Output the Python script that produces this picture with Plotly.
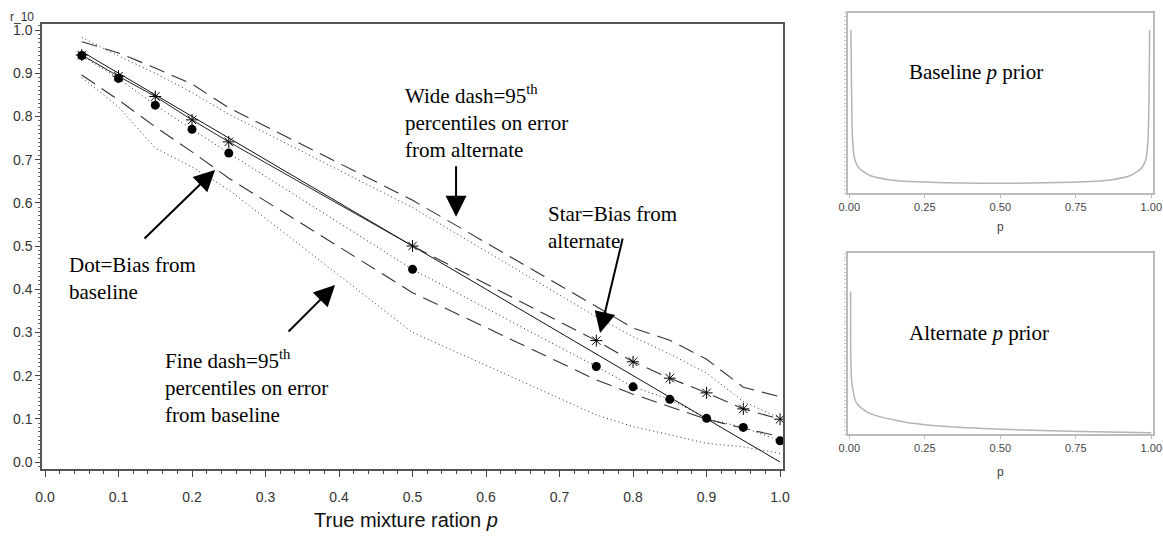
import plotly.graph_objects as go

# ---- main panel: bias and 95th percentile bands of r_10 vs true mixture ratio p
p_true = [0.05, 0.10, 0.15, 0.20, 0.25, 0.50, 0.75, 0.80, 0.85, 0.90, 0.95, 1.00]
r_truth = [0.95, 0.90, 0.85, 0.80, 0.75, 0.50, 0.25, 0.20, 0.15, 0.10, 0.05, 0.00]
bias_alternate = [0.942, 0.893, 0.846, 0.792, 0.741, 0.500, 0.281, 0.232, 0.194, 0.160, 0.123, 0.099]
bias_baseline = [0.941, 0.888, 0.826, 0.770, 0.715, 0.446, 0.221, 0.174, 0.145, 0.101, 0.080, 0.049]
alt_upper = [0.973, 0.947, 0.912, 0.875, 0.820, 0.606, 0.360, 0.310, 0.282, 0.238, 0.173, 0.151]
alt_lower = [0.896, 0.838, 0.776, 0.718, 0.657, 0.392, 0.190, 0.157, 0.128, 0.099, 0.078, 0.059]
base_upper = [0.983, 0.940, 0.900, 0.855, 0.805, 0.589, 0.336, 0.290, 0.250, 0.206, 0.140, 0.101]
base_lower = [0.890, 0.822, 0.727, 0.683, 0.630, 0.300, 0.109, 0.082, 0.063, 0.043, 0.035, 0.020]

x_ticks = [0.0, 0.1, 0.2, 0.3, 0.4, 0.5, 0.6, 0.7, 0.8, 0.9, 1.0]
y_ticks = [0.0, 0.1, 0.2, 0.3, 0.4, 0.5, 0.6, 0.7, 0.8, 0.9, 1.0]

# ---- prior densities (right panels)
prior_p_base = [0.0055, 0.011, 0.019, 0.035, 0.069, 0.135, 0.267, 0.50,
                0.733, 0.865, 0.931, 0.965, 0.981, 0.989, 0.9945]
prior_d_base = [10.4, 3.37, 2.09, 1.55, 1.13, 0.85, 0.70, 0.64,
                0.70, 0.85, 1.13, 1.55, 2.09, 3.37, 10.4]
prior_p_alt = [0.0044, 0.0077, 0.024, 0.057, 0.10, 0.21, 0.32, 0.50, 0.765, 1.00]
prior_d_alt = [9.46, 3.60, 2.06, 1.50, 1.17, 0.73, 0.51, 0.33, 0.18, 0.11]
prior_ticks = [0.0, 0.25, 0.5, 0.75, 1.0]

W, H = 1163, 537
SERIF = "Liberation Serif, Times New Roman, serif"
SANS = "Liberation Sans, Arial, sans-serif"

fig = go.Figure()

# true value line
fig.add_trace(go.Scatter(x=p_true, y=r_truth, mode="lines",
                         line=dict(color="#111", width=1), xaxis="x", yaxis="y"))
# percentile bands
for vals in (alt_upper, alt_lower):
    fig.add_trace(go.Scatter(x=p_true, y=vals, mode="lines",
                             line=dict(color="#333", width=1.1, dash="16px,8px"),
                             xaxis="x", yaxis="y"))
for vals in (base_upper, base_lower):
    fig.add_trace(go.Scatter(x=p_true, y=vals, mode="lines",
                             line=dict(color="#333", width=1, dash="1px,3px"),
                             xaxis="x", yaxis="y"))
# bias from baseline prior (dots joined by a fine dotted line)
fig.add_trace(go.Scatter(x=p_true, y=bias_baseline, mode="lines+markers",
                         line=dict(color="#222", width=1, dash="1px,3px"),
                         marker=dict(symbol="circle", size=9, color="black"),
                         xaxis="x", yaxis="y"))
# bias from alternate prior (stars)
fig.add_trace(go.Scatter(x=p_true[:6], y=bias_alternate[:6], mode="lines",
                         line=dict(color="#222", width=1), xaxis="x", yaxis="y"))
fig.add_trace(go.Scatter(x=p_true[5:], y=bias_alternate[5:], mode="lines",
                         line=dict(color="#333", width=1.1, dash="16px,8px"),
                         xaxis="x", yaxis="y"))
fig.add_trace(go.Scatter(x=p_true, y=bias_alternate, mode="markers",
                         marker=dict(symbol="asterisk-open", size=10, color="black",
                                     line=dict(color="black", width=1)),
                         xaxis="x", yaxis="y"))

# prior curves
fig.add_trace(go.Scatter(x=prior_p_base, y=prior_d_base, mode="lines",
                         line=dict(color="#b4b4b4", width=1.5, shape="spline", smoothing=0.6),
                         xaxis="x2", yaxis="y2"))
fig.add_trace(go.Scatter(x=prior_p_alt, y=prior_d_alt, mode="lines",
                         line=dict(color="#b4b4b4", width=1.5, shape="spline", smoothing=0.6),
                         xaxis="x3", yaxis="y3"))


def px_x(a, b):
    return [a / W, b / W]


def px_y(top, bottom):
    return [1 - bottom / H, 1 - top / H]


main_x = dict(domain=px_x(42, 783), range=[-0.0041, 1.004], tickvals=x_ticks,
              ticktext=[f"{v:.1f}" for v in x_ticks], ticks="outside", ticklen=6,
              tickwidth=1, tickcolor="#444", showline=True, linecolor="#555",
              linewidth=1.5, mirror=True, showgrid=False, zeroline=False,
              tickfont=dict(family=SANS, size=14, color="#333"),
              ticklabelstandoff=8,
              minor=dict(dtick=0.02, ticks="outside", ticklen=3, tickcolor="#444"))
main_y = dict(domain=px_y(24, 469), range=[-0.0162, 1.0139], tickvals=y_ticks,
              ticktext=[f"{v:.1f}" for v in y_ticks], ticks="outside", ticklen=5,
              tickwidth=1, tickcolor="#444", showline=True, linecolor="#555",
              linewidth=1.5, mirror=True, showgrid=False, zeroline=False,
              tickfont=dict(family=SANS, size=14, color="#333"),
              minor=dict(dtick=0.01, ticks="outside", ticklen=2, tickcolor="#666"))


def prior_axes(top, bottom, ymax):
    xa = dict(domain=px_x(847.7, 1153), range=[-0.0053, 1.0056], tickvals=prior_ticks,
              ticktext=[f"{v:.2f}" for v in prior_ticks], ticks="outside", ticklen=3,
              tickcolor="#bbb", showline=True, linecolor="#bbb", linewidth=1.5,
              mirror=True, showgrid=False, zeroline=False,
              tickfont=dict(family=SANS, size=11, color="#444"))
    ya = dict(domain=px_y(top, bottom), range=[0, ymax], showticklabels=False,
              ticks="outside", ticklen=2, tickcolor="#ccc", dtick=0.25,
              showline=True, linecolor="#bbb", linewidth=1.5, mirror=True,
              showgrid=False, zeroline=False)
    return xa, ya


x2, y2 = prior_axes(12.7, 193.3, 11.5)
x3, y3 = prior_axes(253.3, 434.3, 12.0)
x2["anchor"] = "y2"
y2["anchor"] = "x2"
x3["anchor"] = "y3"
y3["anchor"] = "x3"

fig.update_layout(
    width=W, height=H, template="none", showlegend=False,
    paper_bgcolor="white", plot_bgcolor="white",
    margin=dict(l=0, r=0, t=0, b=0),
    xaxis=main_x, yaxis=main_y,
    xaxis2=x2, yaxis2=y2, xaxis3=x3, yaxis3=y3,
)

annotations = []


def label(x, y, text, xref="x", yref="y", size=21, family=SERIF, color="black",
          xanchor="left", yanchor="top", align="left"):
    annotations.append(dict(x=x, y=y, xref=xref, yref=yref, text=text, showarrow=False,
                            xanchor=xanchor, yanchor=yanchor, align=align,
                            font=dict(family=family, size=size, color=color)))


def arrow(x, y, ax, ay):
    annotations.append(dict(x=x, y=y, xref="x", yref="y", ax=ax, ay=ay, text="",
                            showarrow=True, arrowhead=2, arrowsize=2.1, arrowwidth=2,
                            arrowcolor="black", standoff=0))


label(0.487, 0.887, "Wide dash=95<sup>th</sup><br>percentiles on error<br>from alternate")
label(0.682, 0.606, "Star=Bias from<br>alternate")
label(0.0295, 0.488, "Dot=Bias from<br>baseline")
label(0.161, 0.273, "Fine dash=95<sup>th</sup><br>percentiles on error<br>from baseline")

arrow(0.5592, 0.5678, 0, -52)
arrow(0.7551, 0.2986, 23, -96)
arrow(0.2313, 0.6759, -72, 70)
arrow(0.3946, 0.4097, -48, 48)

# axis captions
label(406 / W, 1 - 520 / H, "True mixture ration <i>p</i>", xref="paper", yref="paper",
      size=20, family=SANS, color="#111", xanchor="center", yanchor="middle")
label(8 / W, 1 - 17 / H, "r_10", xref="paper", yref="paper", size=12, family=SANS,
      color="#333", xanchor="left", yanchor="middle")
label(1000 / W, 1 - 227 / H, "p", xref="paper", yref="paper", size=12, family=SANS,
      color="#444", xanchor="center", yanchor="middle")
label(1000 / W, 1 - 472 / H, "p", xref="paper", yref="paper", size=12, family=SANS,
      color="#444", xanchor="center", yanchor="middle")
label(907 / W, 1 - 72 / H, "Baseline <i>p</i> prior", xref="paper", yref="paper",
      yanchor="middle")
label(907 / W, 1 - 333 / H, "Alternate <i>p</i> prior", xref="paper", yref="paper",
      yanchor="middle")

fig.update_layout(annotations=annotations)
fig.write_html("out.html")
